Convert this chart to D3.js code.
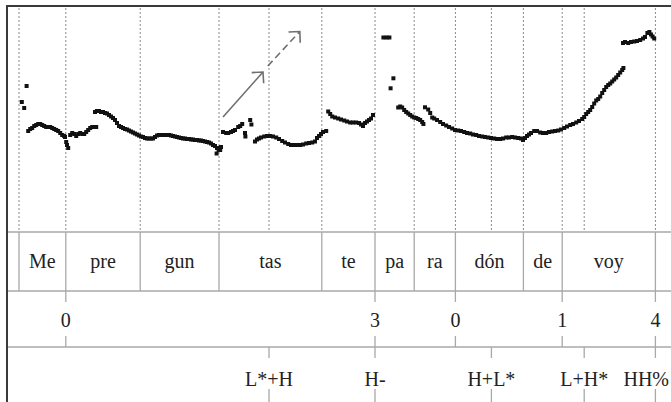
<!DOCTYPE html>
<html><head><meta charset="utf-8">
<script src="https://cdn.jsdelivr.net/npm/d3@7"></script>
<style>body{margin:0;background:#fff}svg{display:block}</style>
</head><body>
<script>
// ---- data (times in ms, f0 in Hz) ----
const syllables = ["Me","pre","gun","tas","te","pa","ra","dón","de","voy"];
const syllableBounds = [30,147,333,530,787,920,1018,1121,1291,1388,1621];
const breakLabels = ["0","3","0","1","4"];
const breakTimes = [147,920,1121,1388,1621];
const toneLabels = ["L*+H","H-","H+L*","L+H*","HH%"];
const toneTimes = [655,920,1211,1443,1621];
const arrowSolid = [[540,215],[640,260]];
const arrowDashed = [[652,266],[732,300.5]];
const pitchTrack = [
[49,246],[37,230],[43,224],
[53,201],[58,203],[63,204],[68,206],[73,207],[78,208],[83,208],[88,207],[93,206],[98,205],[103,205],[108,205],[113,204],[118,203],[123,202],[128,201],[133,199],[138,197],[143,196],[145,195],[148,190],[150,187],[153,184],
[158,197],[163,199],[168,198],[173,196],[178,198],[183,199],[188,198],[193,198],[198,200],[203,202],[208,204],[213,205],[218,205],[223,205],
[220,220],[225,221],[230,221],[235,220],[240,220],[245,219],[250,218.5],[255,217],[260,215.5],[265,214],[270,212],[275,209],[280,206],[285,205],[290,204],[295,203],[300,202.5],[305,201.5],[310,200.5],[315,199.5],[320,198.5],[325,197.5],[330,196.5],[335,195.5],[340,195],[345,194],[350,193.5],[355,193.5],[360,193.5],[365,193.5],[370,195],[375,196.5],[380,197],[385,197],[390,197],[395,197],[400,197],[405,197],[410,196.5],[415,196],[420,195.5],[425,195],[430,194.5],[435,194],[440,193.5],[445,193.5],[450,193],[455,193],[460,192.5],[465,192.5],[470,192],[475,192],[480,191.5],[485,191.5],[490,191],[495,190.5],[500,190],[505,189.5],[510,188.5],[515,187],[520,186],[525,184],[529,182],[524,178.5],
[533,182],[535,185],[540,200],[548,199],[553,199],[560,200],[565,201],[570,202],[578,205],[583,206],[588,208],[595,199],[596,195.5],[608,212],[611,207.5],
[620,190.5],[625,192.5],[630,193.5],[635,194.5],[643,195.5],[650,196],[658,196],[665,195.5],[673,194.5],[680,193],[688,191],[695,189.5],[703,188],[710,187],[718,187],[725,187],[733,187],[740,187.5],[748,188.5],[755,189],[763,189.5],[770,190.5],[775,194],[780,196],[785,198],[790,200],[798,201],
[803,220.5],[808,218],[813,215.5],[820,214.5],[828,213.5],[835,212.5],[843,211.5],[850,210.5],[858,209.5],[865,209.5],[873,209.5],[880,209],[885,207.5],[890,206],[895,209],[900,210.5],[905,212],[910,213.5],[915,217],
[941,294.5],[949,294.5],[956,294.5],[966,253.7],[959,243.7],
[978,224.5],[983,225.5],[988,224.5],[993,222],[998,220],[1003,218.5],[1008,217],[1013,215.5],[1018,214.5],[1023,214],[1028,213],[1033,212],[1038,210],[1041,208],
[1045,224.7],[1053,222.5],[1058,219],[1063,214.5],[1068,213.5],[1075,212],[1083,210],[1090,208],[1098,206.5],[1105,205],[1113,203.5],[1120,202],[1128,201.5],[1135,201],[1143,200],[1150,199],[1158,198.5],[1165,197.5],[1173,197],[1180,196],[1188,195.5],[1195,195],[1203,194.5],[1210,194],[1218,193.5],[1225,193],[1233,193],[1240,193.5],[1248,194.5],[1255,194.5],[1263,195],[1270,194.5],[1278,194],[1285,193.5],[1290,192],[1295,194],[1300,196],[1305,197.5],[1310,199],[1318,201],[1325,201],[1333,199.5],[1340,199],[1348,199],[1355,200],[1363,200.5],[1370,201],[1378,201.5],[1385,202.5],[1393,204],[1400,205.5],[1408,207],[1415,208],[1423,209.5],[1430,211],[1438,213],[1443,215],[1448,218],[1453,220],[1458,222],[1463,225],[1468,228.5],[1473,231.5],[1478,233],[1483,235.5],[1488,239],[1493,242],[1498,245],[1503,247],[1508,248.5],[1513,250.5],[1518,252.5],[1523,254.5],[1528,257],[1533,259.5],[1538,262],[1541,264],
[1540,289],[1545,290],[1553,289],[1560,290],[1568,290.5],[1575,291],[1583,292],[1590,293.5],[1595,295],[1601,299],[1606,300],[1610,297.5],[1614,295.5],[1618,293.5]
];

// ---- layout ----
const W = 671, H = 402;
const padL = 7, padT = 6;
const tierTop = [232, 291, 347];
const x = d3.scaleLinear().domain([0, 1660]).range([padL, W]);
const y = d3.scaleLinear().domain([100, 326]).range([tierTop[0], padT]);
const font = "'Liberation Serif','Times New Roman',serif";
const textCol = "#222";

const svg = d3.select("body").append("svg").attr("width", W).attr("height", H);

const defs = svg.append("defs");
defs.append("marker").attr("id","ah").attr("viewBox","-12 -10 14 20")
  .attr("refX",0).attr("refY",0).attr("markerWidth",14).attr("markerHeight",20)
  .attr("markerUnits","userSpaceOnUse").attr("orient","auto")
  .append("path").attr("d","M-8,-8 L0,0 L-8,8").attr("fill","none")
  .attr("stroke","#6f6f6f").attr("stroke-width",1.6);

// dotted guide lines in pitch area
const guideTimes = Array.from(new Set([...syllableBounds, ...toneTimes])).sort((a,b)=>a-b);
svg.append("g").selectAll("line").data(guideTimes).join("line")
  .attr("x1", d => x(d)).attr("x2", d => x(d))
  .attr("y1", padT + 2).attr("y2", tierTop[0])
  .attr("stroke", "#8a8a8a").attr("stroke-width", 1).attr("stroke-dasharray", "2,2");

// tier horizontal lines
svg.append("g").selectAll("line").data(tierTop).join("line")
  .attr("x1", padL).attr("x2", W).attr("y1", d => d).attr("y2", d => d)
  .attr("stroke", "#a8a8a8").attr("stroke-width", 1.5);

// syllable tier boundaries
svg.append("g").selectAll("line").data(syllableBounds).join("line")
  .attr("x1", d => x(d)).attr("x2", d => x(d))
  .attr("y1", tierTop[0]).attr("y2", tierTop[1])
  .attr("stroke", "#a8a8a8").attr("stroke-width", 1.3);

// syllable labels
svg.append("g").selectAll("text").data(syllables).join("text")
  .attr("x", (d,i) => (x(syllableBounds[i]) + x(syllableBounds[i+1]))/2)
  .attr("y", 268).attr("text-anchor","middle")
  .attr("font-family", font).attr("font-size", 20).attr("fill", textCol)
  .text(d => d);

// break index ticks + labels
const bi = svg.append("g");
breakTimes.forEach((t,i) => {
  bi.append("line").attr("x1",x(t)).attr("x2",x(t)).attr("y1",tierTop[1]).attr("y2",tierTop[1]+11)
    .attr("stroke","#a8a8a8").attr("stroke-width",1.3);
  bi.append("line").attr("x1",x(t)).attr("x2",x(t)).attr("y1",tierTop[2]-11).attr("y2",tierTop[2])
    .attr("stroke","#a8a8a8").attr("stroke-width",1.3);
  bi.append("text").attr("x",x(t)).attr("y",327).attr("text-anchor","middle")
    .attr("font-family",font).attr("font-size",20).attr("fill",textCol).text(breakLabels[i]);
});

// tone ticks + labels (labels kept inside the right edge)
const tn = svg.append("g");
toneTimes.forEach((t,i) => {
  tn.append("line").attr("x1",x(t)).attr("x2",x(t)).attr("y1",tierTop[2]).attr("y2",tierTop[2]+11)
    .attr("stroke","#a8a8a8").attr("stroke-width",1.3);
  tn.append("line").attr("x1",x(t)).attr("x2",x(t)).attr("y1",H-13).attr("y2",H)
    .attr("stroke","#a8a8a8").attr("stroke-width",1.3);
  const txt = tn.append("text").attr("y",386).attr("text-anchor","start")
    .attr("font-family",font).attr("font-size",20).attr("fill",textCol).text(toneLabels[i]);
  const w = txt.node().getComputedTextLength();
  txt.attr("x", Math.min(x(t) - w/2, W - w - 2));
});

// arrows
const line = d3.line().x(d => x(d[0])).y(d => y(d[1]));
svg.append("path").attr("d", line(arrowSolid)).attr("fill","none")
  .attr("stroke","#6f6f6f").attr("stroke-width",1.6).attr("marker-end","url(#ah)");
svg.append("path").attr("d", line(arrowDashed)).attr("fill","none")
  .attr("stroke","#6f6f6f").attr("stroke-width",1.6).attr("stroke-dasharray","7,4").attr("marker-end","url(#ah)");

// pitch points
const s = 4;
svg.append("g").selectAll("rect").data(pitchTrack).join("rect")
  .attr("x", d => x(d[0]) - s/2).attr("y", d => y(d[1]) - s/2)
  .attr("width", s).attr("height", s).attr("fill", "#111");

// frame (left and top borders)
svg.append("line").attr("x1",padL).attr("x2",padL).attr("y1",padT-1).attr("y2",H)
  .attr("stroke","#3a3a3a").attr("stroke-width",2);
svg.append("line").attr("x1",padL-1).attr("x2",W).attr("y1",padT).attr("y2",padT)
  .attr("stroke","#3a3a3a").attr("stroke-width",2);
</script>
</body></html>
